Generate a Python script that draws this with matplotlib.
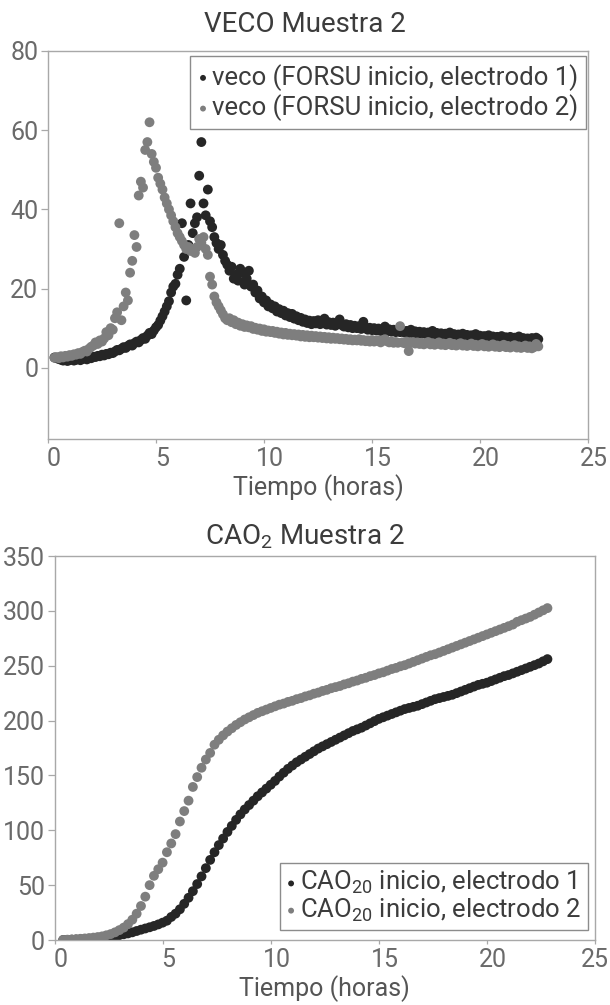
import numpy as np
import matplotlib
matplotlib.use("Agg")
import matplotlib.pyplot as plt
from matplotlib import font_manager
from matplotlib.transforms import ScaledTranslation

# ---------------------------------------------------------------------------
# Data
# ---------------------------------------------------------------------------
# sampling instants (hours)
hours_veco = np.round(np.arange(0.3, 22.75, 0.1), 1)   # 0.3 ... 22.7
hours_cao = np.round(np.arange(0.4, 22.85, 0.2), 1)    # 0.4 ... 22.8

# VECO, electrode 1 (one row per hour of readings)
veco_e1 = [
    2.6, 2.4, 2.2, 2.0, 1.8, 2.1, 1.7, 1.9, 2.2, 1.8,
    2.0, 2.3, 1.9, 2.2, 2.5, 2.1, 2.6, 2.4, 2.8, 2.7,
    3.0, 2.9, 3.3, 3.1, 3.5, 3.4, 3.8, 3.7, 4.1, 4.5,
    4.4, 4.8, 5.2, 5.0, 5.5, 5.9, 5.6, 6.2, 6.6, 6.4,
    7.0, 7.5, 7.3, 8.1, 8.8, 8.5, 9.4, 10.2, 10.8, 11.9,
    13.0, 14.2, 15.5, 16.8, 19.0, 20.5, 21.2, 23.5, 25.0, 36.5,
    28.0, 17.0, 31.0, 41.5, 34.0, 36.5, 38.0, 48.5, 57.0, 41.5,
    38.5, 45.0, 37.0, 35.5, 33.0, 31.5, 30.0, 31.0, 28.5, 27.0,
    26.0, 24.5, 25.5, 22.5, 23.5, 22.0, 25.0, 24.0, 21.0, 22.5,
    24.5, 20.5, 21.0, 19.0, 19.5, 17.5, 18.0, 16.5, 17.0, 15.5,
    16.0, 15.0, 15.5, 14.2, 14.8, 13.8, 14.4, 13.2, 13.8, 12.8,
    13.6, 12.4, 13.0, 12.0, 12.6, 11.6, 12.2, 11.3, 11.9, 11.0,
    11.8, 11.2, 12.0, 11.0, 11.6, 12.4, 10.9, 11.5, 10.8, 11.4,
    10.6, 11.2, 12.2, 10.8, 10.4, 11.0, 10.2, 10.8, 10.0, 10.6,
    10.0, 10.5, 9.8, 11.6, 10.2, 9.6, 10.1, 9.5, 10.0, 9.4,
    9.9, 9.3, 9.8, 10.4, 9.2, 9.7, 9.1, 9.6, 9.0, 9.5,
    9.0, 9.4, 8.9, 9.3, 8.8, 9.6, 8.7, 9.2, 8.6, 9.1,
    8.6, 9.0, 8.5, 8.9, 8.4, 9.3, 8.4, 8.8, 8.3, 8.7,
    8.3, 8.6, 8.2, 8.9, 8.1, 8.5, 8.0, 8.4, 8.0, 8.6,
    7.9, 8.3, 7.8, 8.2, 7.8, 8.5, 7.7, 8.1, 7.6, 8.0,
    7.6, 8.2, 7.5, 7.9, 7.5, 7.8, 7.4, 8.0, 7.4, 7.7,
    7.3, 7.8, 7.2, 7.6, 7.2, 7.9, 7.1, 7.5, 7.0, 7.4,
    7.0, 7.5, 6.9, 7.6, 7.2,
]

# VECO, electrode 2
veco_e2 = [
    2.5, 2.7, 2.4, 2.9, 2.6, 3.0, 2.8, 3.2, 3.0, 3.4,
    3.3, 3.7, 3.5, 4.0, 4.3, 4.1, 4.8, 5.3, 5.6, 6.4,
    6.0, 6.9, 6.6, 7.4, 9.0, 8.2, 10.0, 9.6, 12.5, 14.0,
    36.5, 12.0, 15.5, 19.0, 17.0, 24.0, 27.0, 33.5, 30.5, 43.5,
    47.0, 45.5, 55.0, 57.0, 62.0, 54.0, 52.0, 50.5, 48.0, 46.5,
    45.0, 43.0, 41.5, 40.0, 38.5, 37.0, 35.5, 34.0, 33.0, 32.0,
    31.0, 30.0, 30.5, 29.5, 30.0, 29.0, 30.5, 32.5, 31.5, 33.0,
    30.0, 28.5, 23.0, 21.0, 18.0, 16.5, 15.5, 14.5, 13.5, 12.5,
    12.0, 12.5, 11.5, 12.0, 11.0, 11.4, 10.6, 11.0, 10.3, 10.7,
    10.2, 10.5, 9.8, 10.1, 9.6, 9.9, 9.3, 9.7, 9.1, 9.4,
    9.0, 9.3, 8.8, 9.1, 8.6, 8.9, 8.4, 8.8, 8.3, 8.6,
    8.2, 8.5, 8.1, 8.4, 7.9, 8.3, 7.8, 8.2, 7.7, 8.1,
    7.7, 8.0, 7.6, 7.9, 7.5, 7.8, 7.4, 7.7, 7.3, 7.6,
    7.3, 7.5, 7.2, 7.4, 7.1, 7.3, 7.0, 7.2, 6.9, 7.1,
    6.9, 7.2, 6.8, 7.0, 6.7, 6.9, 6.6, 7.0, 6.6, 6.8,
    6.9, 6.4, 6.8, 7.2, 6.7, 6.4, 6.6, 6.3, 6.5, 6.3,
    10.5, 6.4, 6.2, 6.6, 4.2, 6.3, 6.5, 6.1, 6.4, 6.0,
    6.3, 5.9, 6.2, 6.5, 5.9, 6.2, 5.8, 6.1, 6.4, 5.8,
    6.1, 5.7, 6.0, 6.3, 5.7, 6.0, 5.6, 5.9, 6.2, 5.6,
    5.9, 5.5, 5.8, 6.1, 5.5, 5.8, 5.4, 5.7, 6.0, 5.4,
    5.7, 5.3, 5.6, 5.9, 5.3, 5.6, 5.2, 5.5, 5.8, 5.2,
    5.5, 5.1, 5.4, 5.7, 5.1, 5.4, 5.0, 5.3, 5.6, 5.0,
    5.4, 4.9, 5.2, 6.0, 5.4,
]

# CAO, electrode 1 (one row per hour of readings)
cao_e1 = [
    0.0, 0.1, 0.3, 0.4, 0.6,
    0.8, 1.0, 1.3, 1.6, 1.9,
    2.4, 3.0, 3.7, 4.4, 5.2,
    6.0, 7.0, 8.2, 9.4, 10.5,
    11.6, 12.8, 14.2, 15.8, 17.6,
    21.0, 24.0, 28.0, 33.0, 38.5,
    44.5, 51.0, 58.0, 65.5, 73.0,
    80.0, 86.5, 92.5, 98.5, 104.0,
    109.5, 114.5, 119.0, 123.0, 127.0,
    131.0, 134.5, 138.0, 141.5, 145.0,
    149.0, 152.5, 156.0, 159.0, 162.0,
    164.5, 167.0, 169.5, 172.0, 174.5,
    176.5, 178.5, 180.5, 182.5, 184.5,
    186.5, 188.5, 190.5, 192.0, 193.5,
    195.5, 197.5, 199.5, 201.5, 203.0,
    204.5, 206.0, 207.5, 209.0, 210.5,
    211.5, 212.5, 213.5, 215.0, 216.5,
    218.0, 219.5, 220.5, 221.5, 222.5,
    223.5, 225.0, 226.5, 228.0, 229.5,
    231.0, 232.5, 233.5, 234.5, 236.0,
    237.5, 239.0, 240.5, 241.5, 243.0,
    244.5, 246.0, 247.5, 249.0, 250.5,
    252.0, 254.0, 256.0,
]

# CAO, electrode 2
cao_e2 = [
    0.0, 0.3, 0.5, 0.8, 1.1,
    1.4, 1.8, 2.2, 2.7, 3.3,
    4.3, 5.4, 7.0, 9.0, 11.3,
    14.5, 18.5, 24.0, 31.0, 39.5,
    50.0, 58.5, 64.5, 70.5, 80.0,
    88.0, 96.5, 108.0, 117.5, 127.0,
    139.5, 148.5, 157.0, 164.5, 170.5,
    178.0, 182.5, 186.5, 190.0, 193.0,
    196.0, 198.5, 201.0, 203.0, 205.0,
    207.0, 208.5, 210.0, 211.5, 213.0,
    214.5, 215.5, 217.0, 218.0, 219.5,
    220.5, 222.0, 223.0, 224.5, 225.5,
    227.0, 228.0, 229.5, 230.5, 231.5,
    233.0, 234.0, 235.5, 236.5, 238.0,
    239.0, 240.5, 241.5, 243.0, 244.0,
    245.5, 247.0, 248.0, 249.5, 250.5,
    252.0, 253.5, 255.0, 256.5, 258.0,
    259.5, 260.5, 262.0, 263.5, 265.0,
    266.5, 268.0, 269.5, 271.0, 272.5,
    274.0, 275.5, 277.0, 278.5, 280.0,
    281.5, 283.0, 284.5, 286.0, 287.5,
    290.0, 291.5, 293.0, 294.5, 296.5,
    298.5, 300.5, 302.5,
]

veco_labels = ["veco (FORSU inicio, electrodo 1)", "veco (FORSU inicio, electrodo 2)"]
cao_labels = ["CAO$_{20}$ inicio, electrodo 1", "CAO$_{20}$ inicio, electrodo 2"]
x_ticks = [0, 5, 10, 15, 20, 25]
veco_yticks = [0, 20, 40, 60, 80]
cao_yticks = [0, 50, 100, 150, 200, 250, 300, 350]

# ---------------------------------------------------------------------------
# Style
# ---------------------------------------------------------------------------
available = {f.name for f in font_manager.fontManager.ttflist}
FONT = "Roboto" if "Roboto" in available else "DejaVu Sans"
plt.rcParams["font.family"] = [FONT, "DejaVu Sans"]
plt.rcParams["mathtext.fontset"] = "custom"
plt.rcParams["mathtext.rm"] = FONT
plt.rcParams["mathtext.it"] = FONT
plt.rcParams["mathtext.bf"] = FONT

DARK = "#262626"
GREY = "#7e7e7e"
SPINE = "#a8a8a8"
TICKTXT = "#6a6a6a"
TXT = "#3c3c3c"

W, H = 610, 1005
fig = plt.figure(figsize=(W / 100, H / 100), dpi=100)


def frame(left, top, right, bottom):
    return [left / W, 1 - bottom / H, (right - left) / W, (bottom - top) / H]


def style_axes(ax, shift_last=True):
    for sp in ax.spines.values():
        sp.set_color(SPINE)
        sp.set_linewidth(1.0)
    ax.tick_params(axis="y", direction="out", length=5, width=0.9,
                   color=SPINE, labelcolor=TICKTXT, labelsize=18, pad=2)
    ax.tick_params(axis="x", direction="out", length=3, width=0.9,
                   color=SPINE, labelcolor=TICKTXT, labelsize=18, pad=3)
    ax.set_xlim(0, 25)
    ax.set_xticks(x_ticks)
    # tick labels sit slightly right of their ticks
    shift = ScaledTranslation(6 / 100, 0, fig.dpi_scale_trans)
    labels = ax.get_xticklabels()
    for i, lbl in enumerate(labels):
        if i == len(labels) - 1 and not shift_last:
            continue
        lbl.set_transform(lbl.get_transform() + shift)
    ax.set_xlabel("Tiempo (horas)", fontsize=18, color="#555555", labelpad=2)


marker_area = 50
legend_kw = dict(borderaxespad=0, frameon=True, fancybox=False, framealpha=1,
                 edgecolor="#8c8c8c", fontsize=18.5, labelcolor=TXT,
                 handlelength=0.4, handletextpad=0.15, markerscale=0.6)

# --- VECO -------------------------------------------------------------------
ax1 = fig.add_axes(frame(48, 51, 588, 439))
ax1.scatter(hours_veco, veco_e1, s=marker_area, color=DARK, edgecolors="none",
            label=veco_labels[0], zorder=2)
ax1.scatter(hours_veco, veco_e2, s=marker_area, color=GREY, edgecolors="none",
            label=veco_labels[1], zorder=3)
ax1.set_ylim(-18, 80)
ax1.set_yticks(veco_yticks)
style_axes(ax1)
leg1 = ax1.legend(loc="upper right", bbox_to_anchor=(0.996, 0.987),
                  borderpad=0.3, labelspacing=0.15, **legend_kw)
leg1.get_frame().set_linewidth(1.0)

fig.text(0.5, 1 - 25 / H, "VECO Muestra 2", ha="center", va="center",
         fontsize=20, color=TXT)

# --- CAO --------------------------------------------------------------------
ax2 = fig.add_axes(frame(54.5, 556, 595, 940))
ax2.scatter(hours_cao, cao_e1, s=marker_area, color=DARK, edgecolors="none",
            label=cao_labels[0], zorder=2)
ax2.scatter(hours_cao, cao_e2, s=marker_area, color=GREY, edgecolors="none",
            label=cao_labels[1], zorder=3)
ax2.set_ylim(0, 350)
ax2.set_yticks(cao_yticks)
style_axes(ax2, shift_last=False)
leg2 = ax2.legend(loc="lower right", bbox_to_anchor=(0.987, 0.026),
                  borderpad=0.25, labelspacing=0.0, **legend_kw)
leg2.get_frame().set_linewidth(1.0)

fig.text(0.5, 1 - 537 / H, "CAO$_2$ Muestra 2", ha="center", va="center",
         fontsize=20, color=TXT)

fig.savefig("out.png", dpi=100, facecolor="white")
